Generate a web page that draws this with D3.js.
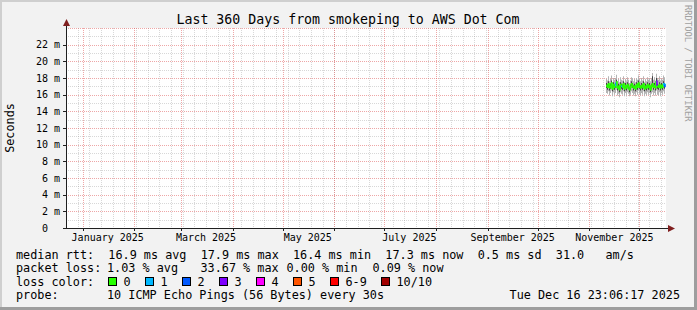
<!DOCTYPE html>
<html>
<head>
<meta charset="utf-8">
<script src="https://cdn.jsdelivr.net/npm/d3@7"></script>
<style>
  body { margin: 0; background: #fff; }
  svg { display: block; }
  text { font-family: "DejaVu Sans Mono", monospace; fill: #000; }
</style>
</head>
<body>
<div id="chart"></div>
<script>
(() => {
"use strict";

const WIDTH = 697, HEIGHT = 310;

// ---- data ----
const title = "Last 360 Days from smokeping to AWS Dot Com";
const endTime = new Date(Date.UTC(2025, 11, 16, 23, 6, 17));
const spanDays = 360;
const firstSample = new Date(Date.UTC(2025, 10, 10, 23, 6, 0));
const sampleHours = 14.4;

// rtt values in ms, one per sample
const medianMs = [17.1,16.9,17.3,16.8,17.0,17.4,16.7,17.2,16.9,17.1,
  17.5,16.8,17.0,16.6,17.2,17.0,16.9,17.3,16.7,17.1,
  16.8,17.2,17.0,16.6,16.9,17.3,17.1,16.8,17.0,16.7,
  17.2,16.9,17.4,17.0,16.8,17.1,16.9,17.3,16.7,17.0,
  16.8,17.2,16.9,17.1,16.6,17.0,17.3,16.9,17.1,16.8,
  17.6,17.0,16.9,17.2,16.8,17.1,16.9,17.3,17.0,17.2];
const minMs = [16.2,16.1,16.4,15.9,16.2,16.5,15.8,16.3,16.0,16.2,
  16.6,15.9,16.1,15.7,16.3,16.1,16.0,16.4,15.8,16.2,
  15.9,16.3,16.1,15.8,16.0,16.4,16.2,15.9,16.1,15.8,
  16.3,16.0,16.5,16.1,15.9,16.2,16.0,16.4,15.8,16.1,
  15.9,16.3,16.0,16.2,15.7,16.1,16.3,15.9,16.2,15.9,
  16.5,16.0,15.9,16.3,15.8,16.2,16.0,16.4,16.1,16.2];
const lowMs = [16.8,16.6,17.0,16.5,16.7,17.1,16.4,16.9,16.6,16.8,
  17.2,16.5,16.7,16.3,16.9,16.7,16.6,17.0,16.4,16.8,
  16.5,16.9,16.7,16.3,16.6,17.0,16.8,16.5,16.7,16.4,
  16.9,16.6,17.1,16.7,16.5,16.8,16.6,17.0,16.4,16.7,
  16.5,16.9,16.6,16.8,16.3,16.7,17.0,16.6,16.8,16.5,
  17.2,16.7,16.6,16.9,16.5,16.8,16.6,17.0,16.7,16.9];
const highMs = [17.4,17.2,17.6,17.1,17.3,17.7,17.0,17.5,17.2,17.4,
  17.8,17.1,17.3,16.9,17.5,17.3,17.2,17.6,17.0,17.4,
  17.1,17.5,17.3,16.9,17.2,17.6,17.4,17.1,17.3,17.0,
  17.5,17.2,17.7,17.3,17.1,17.4,17.2,17.6,17.0,17.3,
  17.1,17.5,17.2,17.4,17.0,17.3,18.2,17.2,17.4,17.1,
  18.0,17.3,17.2,17.5,17.1,17.4,17.2,17.6,17.4,17.7];
const maxMs = [17.9,17.7,18.2,17.6,17.9,18.3,17.5,18.0,17.8,18.0,
  18.4,17.6,17.9,17.5,18.1,17.8,17.7,18.2,17.5,17.9,
  17.6,18.1,17.8,17.4,17.7,18.1,18.0,17.6,17.9,17.5,
  18.0,17.8,18.3,17.9,17.6,18.0,17.7,18.2,17.5,17.9,
  17.6,18.1,17.8,18.0,17.6,18.0,18.6,17.8,18.1,17.7,
  18.5,18.0,17.8,18.2,17.7,18.0,17.8,18.3,18.1,19.0];
// lost pings (of 10) per sample
const lossCount = [0,0,0,0,0,0,0,0,0,1, 0,0,0,0,0,1,0,0,0,0,
  0,0,0,0,0,0,0,0,0,0, 0,0,0,0,0,0,0,0,0,0,
  0,0,0,0,0,0,0,0,0,0, 3,0,0,0,0,0,0,1,2,1];

const yTicks = [0, 2, 4, 6, 8, 10, 12, 14, 16, 18, 20, 22];
const monthLabels = ["January 2025", "March 2025", "May 2025", "July 2025", "September 2025", "November 2025"];
const monthLabelDates = [
  new Date(Date.UTC(2025, 0, 16)), new Date(Date.UTC(2025, 2, 16)), new Date(Date.UTC(2025, 4, 16)),
  new Date(Date.UTC(2025, 6, 16)), new Date(Date.UTC(2025, 8, 16)), new Date(Date.UTC(2025, 10, 16))];

const lossNames = ["0", "1", "2", "3", "4", "5", "6-9", "10/10"];
const lossColors = ["#26ff00", "#00b8ff", "#0059ff", "#7e00ff", "#ff00ff", "#ff5500", "#ff0000", "#a10000"];

const rttLine = "median rtt:  16.9 ms avg  17.9 ms max  16.4 ms min  17.3 ms now  0.5 ms sd  31.0   am/s";
const lossStats = ["1.03 % avg", "33.67 % max", "0.00 % min", "0.09 % now"];
const probeText = "10 ICMP Echo Pings (56 Bytes) every 30s";
const stampText = "Tue Dec 16 23:06:17 2025";

// ---- layout ----
const X0 = 66, X1 = 666, Y0 = 228, Y1 = 28;
const lossStatX = [107, 200.5, 286.5, 372.5];

// keep runs of spaces in monospace text
let keep = s => s.replace(/ /g, "\u00a0");

let root = d3.select("#chart");
let svg = root.append("svg")
  .attr("width", WIDTH)
  .attr("height", HEIGHT);

// frame
svg.append("rect").attr("width", WIDTH).attr("height", HEIGHT).attr("fill", "#f2f2f2");
svg.append("rect").attr("x", 0).attr("y", 0).attr("width", WIDTH).attr("height", 2).attr("fill", "#cfcfcf");
svg.append("rect").attr("x", 0).attr("y", 0).attr("width", 2).attr("height", HEIGHT).attr("fill", "#cfcfcf");
svg.append("rect").attr("x", 0).attr("y", HEIGHT - 3).attr("width", WIDTH).attr("height", 3).attr("fill", "#9e9e9e");
svg.append("rect").attr("x", WIDTH - 3).attr("y", 0).attr("width", 3).attr("height", HEIGHT).attr("fill", "#9e9e9e");

// canvas
svg.append("rect")
  .attr("x", X0).attr("y", Y1)
  .attr("width", X1 - X0).attr("height", Y0 - Y1)
  .attr("fill", "#fff");

let xScale = d3.scaleUtc()
  .domain([new Date(endTime.getTime() - spanDays * 864e5), endTime])
  .range([X0, X1]);
let yScale = d3.scaleLinear()
  .domain([0, 24])
  .range([Y0, Y1]);

let px = v => Math.round(v) + 0.5;

// grid
let grid = svg.append("g");
let minorY = d3.range(1, 25).filter(v => v % 2 !== 0);
grid.selectAll(".gy").data(minorY).join("line")
  .attr("x1", X0).attr("x2", X1)
  .attr("y1", d => px(yScale(d))).attr("y2", d => px(yScale(d)))
  .attr("stroke", "rgba(143,143,143,0.35)").attr("stroke-dasharray", "1,1");
let sundays = d3.utcSunday.range(xScale.domain()[0], endTime);
grid.selectAll(".gx").data(sundays).join("line")
  .attr("x1", d => px(xScale(d))).attr("x2", d => px(xScale(d)))
  .attr("y1", Y1).attr("y2", Y0)
  .attr("stroke", "rgba(143,143,143,0.35)").attr("stroke-dasharray", "1,1");
let majorY = yTicks.concat([24]).filter(v => v > 0);
grid.selectAll(".my").data(majorY).join("line")
  .attr("x1", X0).attr("x2", X1)
  .attr("y1", d => px(yScale(d))).attr("y2", d => px(yScale(d)))
  .attr("stroke", "rgba(222,79,79,0.5)").attr("stroke-dasharray", "1,1");
let months = d3.utcMonth.range(xScale.domain()[0], endTime);
grid.selectAll(".mx").data(months).join("line")
  .attr("x1", d => px(xScale(d))).attr("x2", d => px(xScale(d)))
  .attr("y1", Y1).attr("y2", Y0 + 3)
  .attr("stroke", "rgba(222,79,79,0.5)").attr("stroke-dasharray", "1,1");

// smoke
let times = medianMs.map((_, i) => new Date(firstSample.getTime() + i * sampleHours * 36e5));
let idx = d3.range(medianMs.length);
let stepX = i => xScale(times[i]);
let smokeArea = (lo, hi) => d3.area()
  .curve(d3.curveStepAfter)
  .x(i => stepX(i))
  .y0(i => yScale(lo[i]))
  .y1(i => yScale(hi[i]));
svg.append("path").datum(idx)
  .attr("fill", "#b4b4b4")
  .attr("d", smokeArea(minMs, maxMs));
svg.append("path").datum(idx)
  .attr("fill", "#444")
  .attr("d", smokeArea(lowMs, highMs));

// median, coloured by loss
let bucket = n => n >= 10 ? 7 : n >= 6 ? 6 : n;
let stepW = xScale(times[1]) - xScale(times[0]);
svg.append("g").selectAll("path").data(idx).join("path")
  .attr("fill", "none")
  .attr("stroke", i => lossColors[bucket(lossCount[i])])
  .attr("stroke-width", 1.6)
  .attr("d", i => {
    let x = stepX(i), y = yScale(medianMs[i]);
    let d = `M${x},${y}H${x + stepW}`;
    if (i < medianMs.length - 1) d += `V${yScale(medianMs[i + 1])}`;
    return d;
  });

// axes
svg.append("line")
  .attr("x1", X0 + 0.5).attr("x2", X0 + 0.5)
  .attr("y1", Y0 + 1).attr("y2", 23)
  .attr("stroke", "#1f1f1f");
svg.append("line")
  .attr("x1", X0 - 3).attr("x2", 670)
  .attr("y1", Y0 + 0.5).attr("y2", Y0 + 0.5)
  .attr("stroke", "#1f1f1f");
svg.append("path").attr("fill", "#801f1f")
  .attr("d", `M${X0 + 0.5},19L${X0 + 4},26L${X0 - 3},26Z`);
svg.append("path").attr("fill", "#801f1f")
  .attr("d", `M675,${Y0 + 0.5}L668,${Y0 - 3}L668,${Y0 + 4}Z`);

// y ticks and labels
svg.selectAll(".yt").data(yTicks).join("line")
  .attr("x1", X0 - 3).attr("x2", X0)
  .attr("y1", d => px(yScale(d))).attr("y2", d => px(yScale(d)))
  .attr("stroke", "#1f1f1f");
svg.selectAll(".yl").data(yTicks).join("text")
  .attr("x", 36)
  .attr("y", d => yScale(d) + 3.5)
  .attr("font-size", "10px")
  .text(d => keep((d < 10 ? " " : "") + d + (d ? " m" : "")));

// x ticks and labels
svg.selectAll(".xt").data(months).join("line")
  .attr("x1", d => px(xScale(d))).attr("x2", d => px(xScale(d)))
  .attr("y1", Y0).attr("y2", Y0 + 3)
  .attr("stroke", "#1f1f1f");
svg.selectAll(".xl").data(monthLabels).join("text")
  .attr("x", (d, i) => xScale(monthLabelDates[i]))
  .attr("y", 241)
  .attr("text-anchor", "middle")
  .attr("font-size", "10px")
  .text(d => d);

// title and side texts
svg.append("text")
  .attr("x", 348).attr("y", 24)
  .attr("text-anchor", "middle")
  .attr("font-size", "13.25px")
  .text(title);
svg.append("text")
  .attr("transform", "translate(14,128) rotate(-90)")
  .attr("text-anchor", "middle")
  .attr("font-size", "11.8px")
  .text("Seconds");
svg.append("text")
  .attr("transform", "translate(685,5) rotate(90)")
  .attr("font-size", "8.8px")
  .style("fill", "#a0a0a0")
  .text("RRDTOOL / TOBI OETIKER");

// legend
let legend = svg.append("g").attr("font-size", "11.8px");
legend.append("text").attr("x", 16).attr("y", 258.5).text(keep(rttLine));
legend.append("text").attr("x", 16).attr("y", 272).text(keep("packet loss:"));
legend.selectAll(".ls").data(lossStats).join("text")
  .attr("x", (d, i) => lossStatX[i])
  .attr("y", 272)
  .text(d => keep(d));
legend.append("text").attr("x", 16).attr("y", 285.5).text(keep("loss color:"));
legend.append("text").attr("x", 16).attr("y", 299).text("probe:");
legend.append("text").attr("x", 107).attr("y", 299).text(keep(probeText));
legend.append("text").attr("x", 680).attr("y", 299).attr("text-anchor", "end").text(keep(stampText));

let swatchX = i => i < 7 ? 108 + i * 37 : 381;
legend.selectAll("rect").data(lossNames).join("rect")
  .attr("x", (d, i) => swatchX(i) + 0.5)
  .attr("y", 277.5)
  .attr("width", 8).attr("height", 8)
  .attr("fill", (d, i) => lossColors[i])
  .attr("stroke", "#000");
legend.selectAll(".ln").data(lossNames).join("text")
  .attr("x", (d, i) => swatchX(i) + 15.5)
  .attr("y", 285.5)
  .text(d => d);
})();
</script>
</body>
</html>
